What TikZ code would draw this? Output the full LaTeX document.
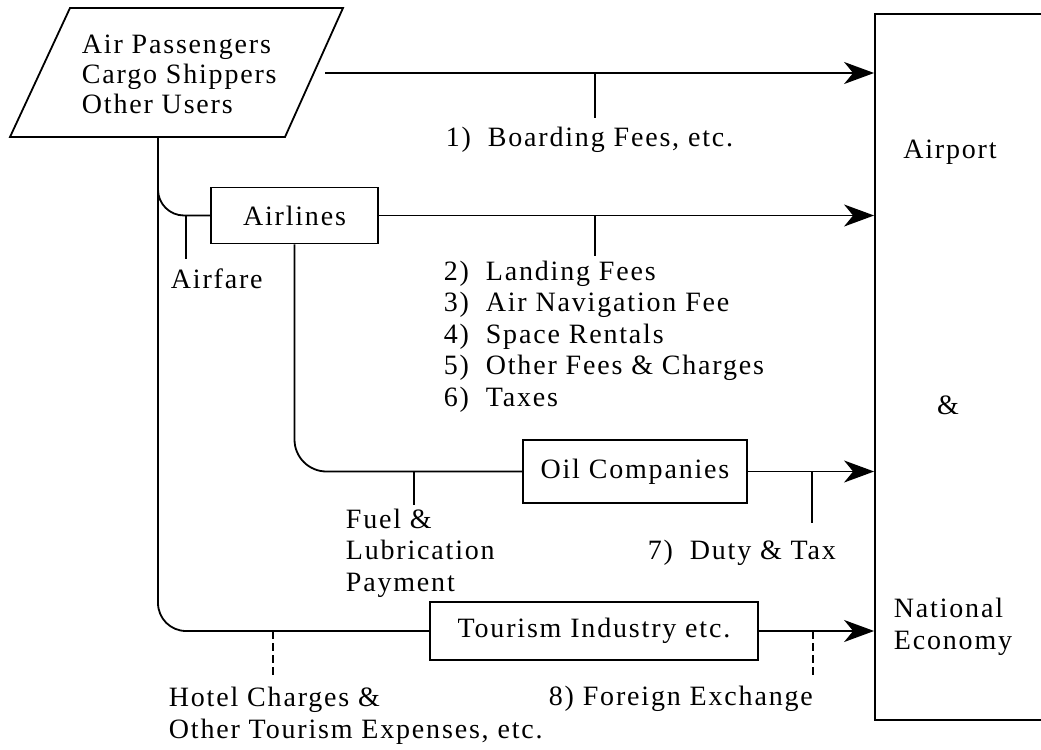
\documentclass[tikz,border=0pt]{standalone}
\usepackage{fontspec}
\setmainfont{Liberation Serif}[LetterSpace=6.5]
\usetikzlibrary{arrows.meta}

\begin{document}
\begin{tikzpicture}[x=0.5pt, y=-0.5pt, line width=0.9pt,
    >={Stealth[length=15pt, width=11pt, inset=4.5pt]},
    font=\fontsize{14}{15.8}\selectfont,
    box/.style={draw, minimum width=#1, minimum height=28pt, inner sep=0pt},
    lbl/.style={anchor=west, inner sep=0pt, align=left},
    dashtick/.style={dash pattern=on 4pt off 2pt}]
  \useasboundingbox (0,0) rectangle (1041,750);

  \coordinate (P1) at (10,137);
  \coordinate (P2) at (285,137);
  \coordinate (P3) at (343,8);
  \coordinate (P4) at (70,8);
  \coordinate (drop) at (158,137);
  \coordinate (start) at (325,73);

  \draw (P1) -- (P2) -- (P3) -- (P4) -- cycle;
  \node[lbl, font=\fontsize{14}{15}\selectfont] (users) at (81,74)
    {Air Passengers\\Cargo Shippers\\Other Users};

  \node[box=83.5pt] (airlines) at (294.5,215.5) {Airlines};
  \node[box=112pt, minimum height=31.5pt] (oil) at (635,471.5) {Oil Companies};
  \node[box=164pt, minimum height=29pt] (tourism) at (594,631) {Tourism Industry etc.};
  \node[draw, minimum width=112.5pt, minimum height=353pt] (airport) at (987.5,367) {};

  \node (apt) at (950,152) {Airport};
  \node (amp) at (948,405) {\&};
  \node[lbl] (eco) at (893,627) {National\\Economy};

  % flows into airport
  \draw[->] (start) -- (start -| airport.west);
  \draw[->] (airlines.east) -- (airlines.east -| airport.west);
  \draw[->] (oil.east) -- (oil.east -| airport.west);
  \draw[->] (tourism.east) -- (tourism.east -| airport.west);

  \draw[rounded corners=14pt] (drop) |- (tourism.west);
  \draw[rounded corners=13pt] (drop) |- (airlines.west);
  \draw[rounded corners=16pt] (airlines.south) |- (oil.west);

  \coordinate (c-board) at (595,73);
  \coordinate (c-land) at (595,215.5);
  \coordinate (c-fare) at (186,215.5);
  \coordinate (c-fuel) at (414,471.5);
  \coordinate (c-duty) at (812,471.5);
  \coordinate (c-hotel) at (273,631);
  \coordinate (c-forex) at (813,631);

  \draw (c-board) -- ++(0,45);
  \draw (c-land) -- ++(0,40);
  \draw (c-fare) -- ++(0,43);
  \draw (c-fuel) -- ++(0,33);
  \draw (c-duty) -- ++(0,51);
  \draw[dashtick] (c-hotel) -- ++(0,46);
  \draw[dashtick] (c-forex) -- ++(0,46);

  \node[lbl] (board) at (445,140) {1)\hspace{0.6em}Boarding Fees, etc.};
  \node[lbl] (fare) at (170,279) {Airfare};
  \node[lbl] (fees) at (443,336.5)
    {2)\hspace{0.6em}Landing Fees\\3)\hspace{0.6em}Air Navigation Fee\\4)\hspace{0.6em}Space Rentals\\5)\hspace{0.6em}Other Fees \& Charges\\6)\hspace{0.6em}Taxes};
  \node[lbl] (fuel) at (345,553) {Fuel \&\\Lubrication\\Payment};
  \node[lbl] (duty) at (647,553) {7)\hspace{0.6em}Duty \& Tax};
  \node[lbl, font=\fontsize{14}{16}\selectfont] (hotel) at (168,716)
    {Hotel Charges \&\\Other Tourism Expenses, etc.};
  \node[lbl] (forex) at (548,699) {8) Foreign Exchange};
\end{tikzpicture}
\end{document}
